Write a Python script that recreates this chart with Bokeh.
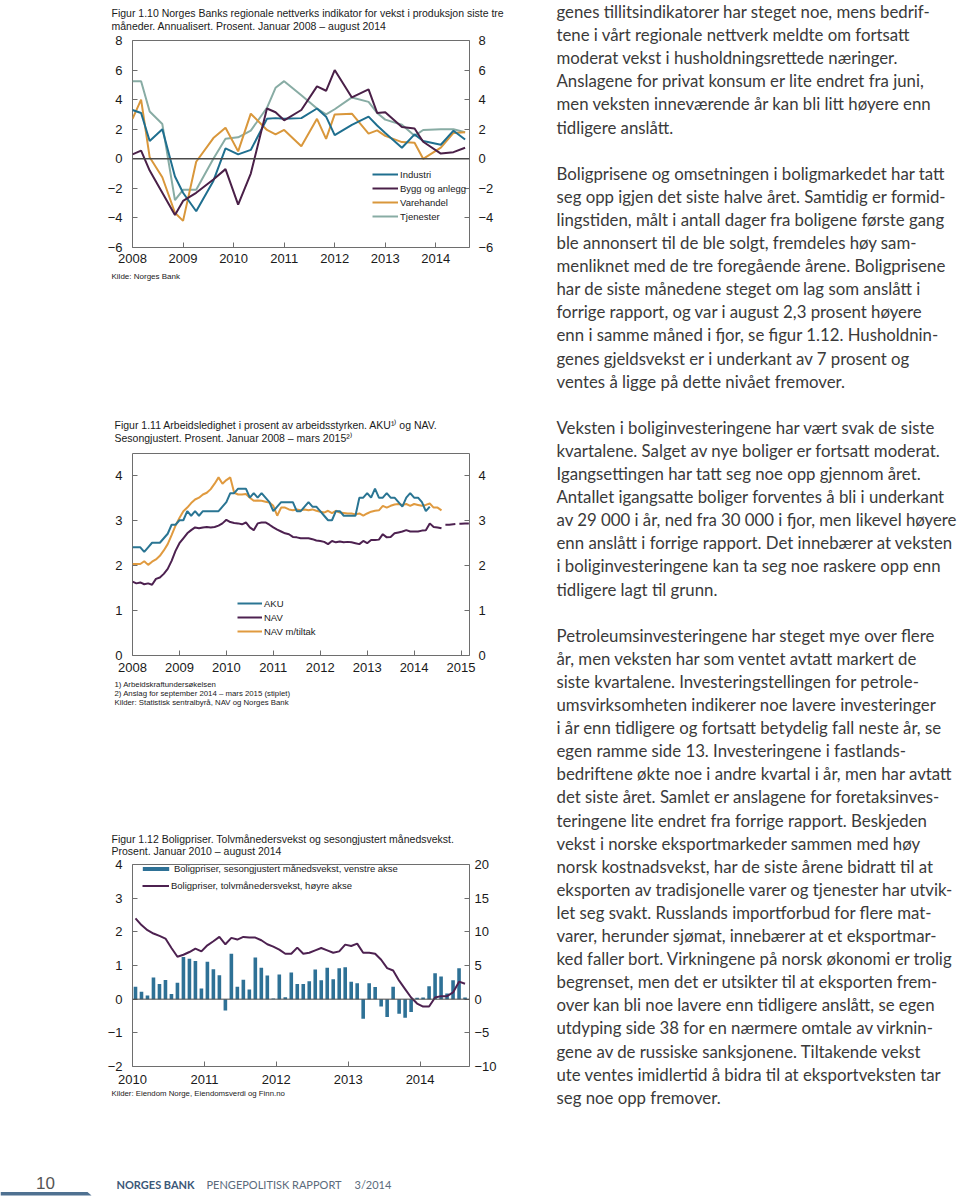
from bokeh.plotting import figure
from bokeh.models import (Range1d, LinearAxis, FixedTicker, Span, Legend,
                          LegendItem, ColumnDataSource, CustomJSTickFormatter)
from bokeh.layouts import column, row
from bokeh.embed import file_html
from bokeh.resources import INLINE
from bokeh.core.properties import value

FONT = "Liberation Sans"
BODY_FONT = "Lato"

# ---------------- Figur 1.10 : regional network ----------------
survey_dates = [2008.0, 2008.17, 2008.34, 2008.59, 2008.84, 2009.0, 2009.26, 2009.6,
                2009.84, 2010.09, 2010.34, 2010.66, 2010.83, 2011.0, 2011.34, 2011.65,
                2011.83, 2012.0, 2012.34, 2012.67, 2012.84, 2013.0, 2013.33, 2013.58,
                2013.75, 2014.1, 2014.35, 2014.58]
industri = [3.3, 3.1, 1.2, 2.0, -1.2, -2.3, -3.55, -1.5, 0.7, 0.3, 0.6, 2.7, 2.75, 2.7,
            2.75, 3.4, 2.85, 1.6, 2.3, 2.85, 2.25, 1.75, 0.75, 1.65, 1.2, 0.95, 1.9, 1.3]
bygg = [0.3, 0.55, -0.8, -2.3, -3.8, -2.85, -2.3, -1.4, -0.7, -3.1, -1.0, 3.4, 3.15, 2.6,
        3.3, 4.9, 4.6, 6.0, 4.15, 4.7, 3.1, 3.15, 2.15, 2.05, 1.15, 0.35, 0.45, 0.75]
varehandel = [2.7, 4.0, 0.1, -1.25, -3.65, -4.2, -0.2, 1.4, 2.1, 0.5, 3.05, 1.95, 1.65, 1.95,
              0.85, 2.7, 1.35, 3.0, 3.05, 1.7, 1.92, 1.55, 1.13, 1.08, 0.0, 0.75, 1.75, 1.8]
tjenester = [5.25, 5.25, 3.2, 2.35, -2.8, -2.1, -2.1, 0.0, 1.35, 1.45, 1.9, 3.45, 4.8, 5.25,
             4.3, 3.4, 3.0, 3.35, 4.15, 3.85, 3.1, 2.65, 2.3, 1.55, 1.95, 2.0, 2.0, 1.8]
fig10_labels = ["Industri", "Bygg og anlegg", "Varehandel", "Tjenester"]

# ---------------- Figur 1.11 : unemployment (monthly from Jan 2008) ----------------
aku = [2.4, 2.4, 2.4, 2.3, 2.4, 2.5, 2.5, 2.5, 2.6, 2.7, 2.9, 2.9, 3.0, 3.0,
       3.2, 3.1, 3.2, 3.1, 3.2, 3.2, 3.2, 3.2, 3.2, 3.3,
       3.4, 3.6, 3.6, 3.7, 3.7, 3.7, 3.5, 3.6, 3.5, 3.6, 3.5, 3.4,
       3.2, 3.3, 3.4, 3.4, 3.4, 3.4, 3.2, 3.2, 3.3, 3.4, 3.3, 3.3,
       3.2, 3.1, 3.0, 3.0, 3.2, 3.2, 3.1, 3.1, 3.1, 3.1, 3.5, 3.5,
       3.6, 3.5, 3.7, 3.5, 3.5, 3.6, 3.5, 3.5, 3.4, 3.3, 3.5, 3.6,
       3.5, 3.5, 3.4, 3.2, 3.3]
nav = [1.64, 1.6, 1.62, 1.58, 1.6, 1.57, 1.7, 1.73, 1.81, 1.92, 2.1, 2.32,
       2.49, 2.6, 2.71, 2.78, 2.84, 2.82, 2.84, 2.85, 2.84, 2.85, 2.88, 2.93,
       3.01, 2.96, 2.94, 2.93, 2.91, 2.95, 2.84, 2.78, 2.93, 2.95, 2.95, 2.9,
       2.84, 2.79, 2.75, 2.71, 2.69, 2.63, 2.62, 2.6, 2.6, 2.6, 2.58, 2.55,
       2.54, 2.52, 2.47, 2.54, 2.51, 2.53, 2.51, 2.52, 2.51, 2.49, 2.47, 2.54,
       2.49, 2.56, 2.56, 2.57, 2.69, 2.62, 2.63, 2.71, 2.73, 2.75, 2.78, 2.75,
       2.75, 2.75, 2.77, 2.78, 2.93, 2.85, 2.84, 2.82]
nav_tiltak = [2.03, 2.03, 2.03, 2.09, 2.01, 2.08, 2.13, 2.21, 2.33, 2.47, 2.67, 2.88,
              3.05, 3.2, 3.28, 3.38, 3.46, 3.5, 3.57, 3.61, 3.69, 3.81, 3.95, 3.81,
              3.89, 3.95, 3.61, 3.57, 3.57, 3.58, 3.5, 3.43, 3.44, 3.43, 3.41, 3.39,
              3.32, 3.1, 3.28, 3.28, 3.24, 3.22, 3.24, 3.22, 3.24, 3.22, 3.24, 3.21,
              3.19, 3.17, 3.21, 3.16, 3.21, 3.17, 3.16, 3.15, 3.15, 3.13, 3.15, 3.1,
              3.15, 3.19, 3.21, 3.22, 3.32, 3.28, 3.32, 3.35, 3.36, 3.34, 3.36, 3.32,
              3.36, 3.34, 3.32, 3.34, 3.37, 3.28, 3.28, 3.22]
nav_forecast = [2.9, 2.9, 2.91, 2.92, 2.92, 2.93, 2.93]   # Sep 2014 - Mar 2015
fig11_labels = ["AKU", "NAV", "NAV m/tiltak"]

# ---------------- Figur 1.12 : house prices (monthly from Jan 2010) ----------------
boligpris_mnd = [0.37, 0.22, 0.11, 0.64, 0.45, 0.57, 0.15, 0.49, 1.25, 1.2, 1.13, 0.32,
                 1.11, 0.89, 0.71, -0.34, 1.35, 0.37, 0.58, 0.29, 1.24, 0.93, 0.7, 0.02,
                 0.73, 0.06, 0.79, 0.45, 0.45, 0.53, 0.88, 0.56, 0.93, 0.59, 0.92, 0.95,
                 0.52, 0.47, -0.58, 0.47, 0.36, -0.22, -0.53, 0.37, -0.43, -0.55, -0.38, 0.04,
                 0.05, 0.38, 0.77, 0.67, 0.17, 0.56, 0.92, 0.05]
boligpris_12m = [12.0, 11.0, 10.25, 9.75, 9.4, 9.0, 7.6, 6.3, 6.6, 7.0, 7.5, 7.1,
                 8.0, 8.6, 9.25, 8.15, 9.1, 8.85, 9.25, 9.15, 9.15, 8.75, 8.15, 7.8,
                 7.35, 6.75, 6.75, 7.65, 6.75, 6.9, 7.25, 7.6, 7.25, 6.9, 7.1, 8.1,
                 7.9, 8.25, 6.9, 6.9, 6.75, 5.85, 4.6, 4.25, 2.75, 1.5, 0.25, -0.65,
                 -1.1, -1.1, 0.25, 0.45, 0.45, 1.0, 2.6, 2.3]
fig12_labels = ["Boligpriser, sesongjustert månedsvekst, venstre akse",
                "Boligpriser, tolvmånedersvekst, høyre akse"]

# ---------------- body text ----------------
paragraphs = [
    ["genes tillitsindikatorer har steget noe, mens bedrif-",
     "tene i vårt regionale nettverk meldte om fortsatt",
     "moderat vekst i husholdningsrettede næringer.",
     "Anslagene for privat konsum er lite endret fra juni,",
     "men veksten inneværende år kan bli litt høyere enn",
     "tidligere anslått."],
    ["Boligprisene og omsetningen i boligmarkedet har tatt",
     "seg opp igjen det siste halve året. Samtidig er formid-",
     "lingstiden, målt i antall dager fra boligene første gang",
     "ble annonsert til de ble solgt, fremdeles høy sam-",
     "menliknet med de tre foregående årene. Boligprisene",
     "har de siste månedene steget om lag som anslått i",
     "forrige rapport, og var i august 2,3 prosent høyere",
     "enn i samme måned i fjor, se figur 1.12. Husholdnin-",
     "genes gjeldsvekst er i underkant av 7 prosent og",
     "ventes å ligge på dette nivået fremover."],
    ["Veksten i boliginvesteringene har vært svak de siste",
     "kvartalene. Salget av nye boliger er fortsatt moderat.",
     "Igangsettingen har tatt seg noe opp gjennom året.",
     "Antallet igangsatte boliger forventes å bli i underkant",
     "av 29 000 i år, ned fra 30 000 i fjor, men likevel høyere",
     "enn anslått i forrige rapport. Det innebærer at veksten",
     "i boliginvesteringene kan ta seg noe raskere opp enn",
     "tidligere lagt til grunn."],
    ["Petroleumsinvesteringene har steget mye over flere",
     "år, men veksten har som ventet avtatt markert de",
     "siste kvartalene. Investeringstellingen for petrole-",
     "umsvirksomheten indikerer noe lavere investeringer",
     "i år enn tidligere og fortsatt betydelig fall neste år, se",
     "egen ramme side 13. Investeringene i fastlands-",
     "bedriftene økte noe i andre kvartal i år, men har avtatt",
     "det siste året. Samlet er anslagene for foretaksinves-",
     "teringene lite endret fra forrige rapport. Beskjeden",
     "vekst i norske eksportmarkeder sammen med høy",
     "norsk kostnadsvekst, har de siste årene bidratt til at",
     "eksporten av tradisjonelle varer og tjenester har utvik-",
     "let seg svakt. Russlands importforbud for flere mat-",
     "varer, herunder sjømat, innebærer at et eksportmar-",
     "ked faller bort. Virkningene på norsk økonomi er trolig",
     "begrenset, men det er utsikter til at eksporten frem-",
     "over kan bli noe lavere enn tidligere anslått, se egen",
     "utdyping side 38 for en nærmere omtale av virknin-",
     "gene av de russiske sanksjonene. Tiltakende vekst",
     "ute ventes imidlertid å bidra til at eksportveksten tar",
     "seg noe opp fremover."],
]

C_IND, C_BYG, C_VAR, C_TJE = "#1f6f8f", "#4a2048", "#d9973b", "#88aca4"
C_AKU, C_NAV, C_TIL = "#2a7593", "#4d2150", "#e09a3f"
C_BAR = "#2e7196"
FRAME = "#6e6e6e"
TXT = "#1a1a1a"

MINUS = CustomJSTickFormatter(code="return (tick < 0 ? '\u2212' : '') + Math.abs(tick).toString();")

LEFT_W = 548
RIGHT_W = 960 - LEFT_W
MBL, MBR = 132, 79
TITLE_FS = 10.5
NOTE_FS = 7.8


def blank_fig(w, h):
    p = figure(width=w, height=h, x_range=Range1d(0, w), y_range=Range1d(h, 0),
               output_backend="svg", toolbar_location=None, title=None,
               x_axis_type=None, y_axis_type=None, min_border=0)
    p.grid.visible = False
    p.outline_line_color = None
    p.background_fill_color = "white"
    p.border_fill_color = "white"
    return p


def text_fig(h, items, w=LEFT_W, font=FONT, color=TXT):
    """items: (x, y, text, size) in the figure's own pixel space."""
    p = blank_fig(w, h)
    if items:
        src = ColumnDataSource(dict(x=[i[0] for i in items], y=[i[1] for i in items],
                                    t=[i[2] for i in items],
                                    s=["%spx" % i[3] for i in items]))
        p.text(x="x", y="y", text="t", text_font_size="s", source=src,
               text_font=value(font), text_color=color, text_baseline="middle",
               text_align="left")
    return p


def make_chart(height, mbt, mbb, xr, yr, yr_r, xticks, yticks, yticks_r, fs, xstand, lstand, rstand):
    p = figure(width=LEFT_W, height=height, x_range=Range1d(*xr), y_range=Range1d(*yr),
               output_backend="svg", toolbar_location=None, title=None,
               min_border_left=MBL, min_border_right=MBR, min_border_top=mbt, min_border_bottom=mbb)
    p.extra_y_ranges = {"r": Range1d(*yr_r)}
    p.add_layout(LinearAxis(y_range_name="r"), "right")
    p.grid.visible = False
    p.outline_line_color = FRAME
    p.outline_line_width = 1
    p.background_fill_color = "white"
    p.border_fill_color = "white"
    for ax in p.axis:
        ax.axis_line_color = None
        ax.major_tick_in = 5
        ax.major_tick_out = 0
        ax.minor_tick_line_color = None
        ax.major_tick_line_color = FRAME
        ax.major_label_text_font = FONT
        ax.major_label_text_font_size = f"{fs}px"
        ax.major_label_text_color = TXT
    p.below[0].ticker = FixedTicker(ticks=xticks)
    p.below[0].major_label_standoff = xstand
    p.left[0].ticker = FixedTicker(ticks=yticks)
    p.left[0].formatter = MINUS
    p.left[0].major_label_standoff = lstand
    p.right[0].ticker = FixedTicker(ticks=yticks_r)
    p.right[0].formatter = MINUS
    p.right[0].major_label_standoff = rstand
    return p


def make_legend(items, loc, gw, gh, fs):
    return Legend(items=items, location=loc, orientation="vertical",
                  background_fill_alpha=0, border_line_color=None, padding=0, margin=0,
                  spacing=0, glyph_width=gw, glyph_height=gh, label_height=gh,
                  label_standoff=2, label_text_font=FONT, label_text_font_size=f"{fs}px",
                  label_text_color=TXT)


# ---------- Chart 1 (page y 0 - 410) ----------
t1 = text_fig(32, [(111, 12, "Figur 1.10 Norges Banks regionale nettverks indikator for vekst i produksjon siste tre", TITLE_FS),
                   (111, 25, "måneder. Annualisert. Prosent. Januar 2008 \u2013 august 2014", TITLE_FS)])
xr1, yr1 = (2008.0, 2014.667), (-6, 8)
p1 = make_chart(238, 8, 23, xr1, yr1, yr1, list(range(2008, 2015)), list(range(-6, 9, 2)),
                list(range(-6, 9, 2)), 13, 6, 10, 9)
p1.add_layout(Span(location=0, dimension="width", line_color="#4a4a4a", line_width=1.5))
src1 = ColumnDataSource(dict(x=survey_dates, ind=industri, byg=bygg, var=varehandel, tje=tjenester))
r_tje = p1.line("x", "tje", source=src1, line_color=C_TJE, line_width=2)
r_var = p1.line("x", "var", source=src1, line_color=C_VAR, line_width=2)
r_ind = p1.line("x", "ind", source=src1, line_color=C_IND, line_width=2)
r_byg = p1.line("x", "byg", source=src1, line_color=C_BYG, line_width=2)
p1.add_layout(make_legend([LegendItem(label=fig10_labels[0], renderers=[r_ind]),
                           LegendItem(label=fig10_labels[1], renderers=[r_byg]),
                           LegendItem(label=fig10_labels[2], renderers=[r_var]),
                           LegendItem(label=fig10_labels[3], renderers=[r_tje])],
                          (240, 24), 26, 14, 9.5))
s1 = text_fig(140, [(111, 6, "Kilde: Norges Bank", 8)])

# ---------- Chart 2 (page y 410 - 825) ----------
t2 = text_fig(35, [(114, 14, "Figur 1.11 Arbeidsledighet i prosent av arbeidsstyrken. AKU\u00b9\u207e og NAV.", TITLE_FS),
                   (114, 27, "Sesongjustert. Prosent. Januar 2008 \u2013 mars 2015\u00b2\u207e", TITLE_FS)])
xr2, yr2 = (2008.0, 2015.18), (0, 4.48)
p2 = make_chart(233, 8, 23, xr2, yr2, yr2, list(range(2008, 2016)), [0, 1, 2, 3, 4],
                [0, 1, 2, 3, 4], 13, 7, 10, 9)
x_aku = [2008 + i / 12 for i in range(len(aku))]
x_nav = [2008 + i / 12 for i in range(len(nav))]
x_fc = [2008 + (len(nav) + i) / 12 for i in range(len(nav_forecast))]
r_til = p2.line(x_nav, nav_tiltak, line_color=C_TIL, line_width=2)
r_aku = p2.line(x_aku, aku, line_color=C_AKU, line_width=2)
r_nav = p2.line(x_nav, nav, line_color=C_NAV, line_width=2)
p2.line(x_fc, nav_forecast, line_color=C_NAV, line_width=2, line_dash="10 4")
p2.add_layout(make_legend([LegendItem(label=fig11_labels[0], renderers=[r_aku]),
                           LegendItem(label=fig11_labels[1], renderers=[r_nav]),
                           LegendItem(label=fig11_labels[2], renderers=[r_til])],
                          (105, 17), 25, 14, 9.5))
s2 = text_fig(147, [(114, 6, "1) Arbeidskraftundersøkelsen", NOTE_FS),
                    (114, 15, "2) Anslag for september 2014 \u2013 mars 2015 (stiplet)", NOTE_FS),
                    (114, 24, "Kilder: Statistisk sentralbyrå, NAV og Norges Bank", NOTE_FS)])

# ---------- Chart 3 (page y 825 - 1150) ----------
t3 = text_fig(33, [(111, 13, "Figur 1.12 Boligpriser. Tolvmånedersvekst og sesongjustert månedsvekst.", TITLE_FS),
                   (111, 25, "Prosent. Januar 2010 \u2013 august 2014", TITLE_FS)])
xr3, yr3, yr3r = (2010.0, 2014.687), (-2, 4), (-10, 20)
p3 = make_chart(230, 6, 22, xr3, yr3, yr3r, list(range(2010, 2015)), list(range(-2, 5)),
                list(range(-10, 21, 5)), 13, 8, 10, 5)
x_m = [2010 + (i + 0.5) / 12 for i in range(len(boligpris_mnd))]
r_bar = p3.vbar(x=x_m, top=boligpris_mnd, bottom=0, width=0.05, fill_color=C_BAR, line_color=None)
p3.add_layout(Span(location=0, dimension="width", line_color="#4a4a4a", line_width=1))
r_12 = p3.line(x_m, boligpris_12m, y_range_name="r", line_color=C_NAV, line_width=2)
p3.add_layout(make_legend([LegendItem(label=fig12_labels[0], renderers=[r_bar])],
                          (7, 192), 33, 5, 9.5))
p3.add_layout(make_legend([LegendItem(label=fig12_labels[1], renderers=[r_12])],
                          (10, 173), 27, 15, 9.5))
s3 = text_fig(62, [(111, 5, "Kilder: Eiendom Norge, Eiendomsverdi og Finn.no", NOTE_FS)])

# ---------- Right column: body text ----------
RH = 1150
body_items = []
k = 0
for para in paragraphs:
    for line in para:
        body_items.append((8, 11 + 23.1 * k, line, 16.8))
        k += 1
    k += 1
pt = text_fig(RH, body_items, w=RIGHT_W, font=BODY_FONT, color="#3a3a3a")

# ---------- Footer ----------
pf = blank_fig(960, 50)
pf.patch(x=[0, 87, 91, 0], y=[41.5, 41.5, 45, 45], fill_color="#4f7191", line_color=None)
pf.text(x=[45], y=[32], text=["10"], text_font=value(FONT), text_font_size=value("17px"),
        text_color="#555555", text_baseline="middle", text_align="center")
pf.text(x=[116], y=[34], text=["NORGES BANK"], text_font=value(BODY_FONT),
        text_font_size=value("11px"), text_font_style="bold", text_color="#3b5878",
        text_baseline="middle", text_align="left")
pf.text(x=[206, 354], y=[34, 34], text=["PENGEPOLITISK RAPPORT", "3/2014"],
        text_font=value(BODY_FONT), text_font_size=value("11px"), text_color="#5b6b7c",
        text_baseline="middle", text_align="left")

# each figure is wrapped in its own column so that Bokeh does not align text frames with chart frames
left = column(*[column(f, spacing=0) for f in (t1, p1, s1, t2, p2, s2, t3, p3, s3)], spacing=0)
layout = column(row(left, pt, spacing=0), pf, spacing=0)
open("out.html", "w").write(file_html(layout, INLINE, title="Pengepolitisk rapport 3/2014"))
